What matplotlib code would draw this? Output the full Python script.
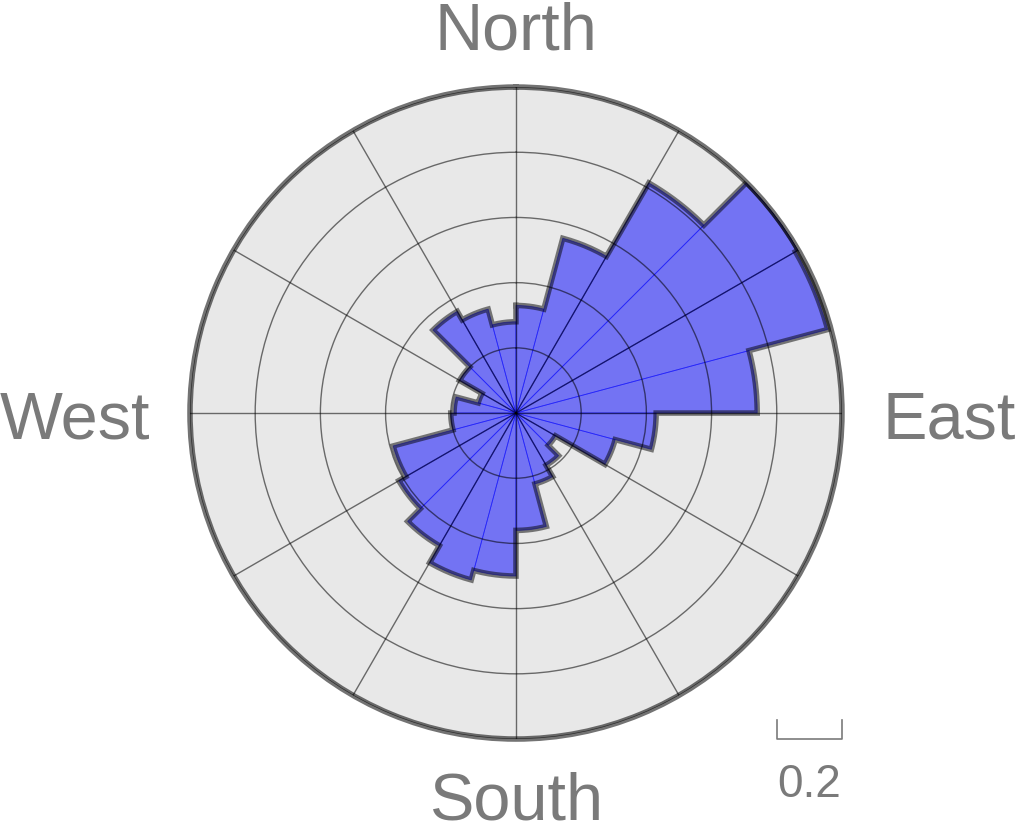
import numpy as np
import matplotlib.pyplot as plt

plt.rcParams['font.family'] = ['Liberation Sans', 'DejaVu Sans']

# 24 direction bins of 15 degrees, clockwise from north
bin_deg = 15
freq = [0.33, 0.555, 0.815, 1.0, 0.99, 0.74, 0.43, 0.315,
        0.14, 0.185, 0.225, 0.36, 0.50, 0.53, 0.47, 0.415,
        0.39, 0.20, 0.19, 0.12, 0.20, 0.36, 0.33, 0.28]
rings = [0.2, 0.4, 0.6, 0.8, 1.0]
compass = ['North', 'East', 'South', 'West']
scale_value = 0.2

n = len(freq)
edges = np.deg2rad(np.arange(n) * bin_deg)
width = np.deg2rad(bin_deg)

fig = plt.figure(figsize=(10.16, 8.33), dpi=100)
ax = fig.add_axes([0.187, 0.1128, 0.6417, 0.7827], projection='polar')
ax.set_theta_zero_location('N')
ax.set_theta_direction(-1)
ax.set_facecolor('#e8e8e8')

ax.bar(edges, freq, width=width, align='edge', color='blue', alpha=0.5,
       edgecolor='blue', linewidth=0.6)

# stepped outline of the histogram
th, rr = [], []
for i, r in enumerate(freq):
    t = np.linspace(edges[i], edges[i] + width, 20)
    th.extend(t)
    rr.extend([r] * len(t))
th.append(th[0])
rr.append(rr[0])
ax.plot(th, rr, color='black', alpha=0.5, lw=4, solid_joinstyle='miter')

ax.set_ylim(0, rings[-1])
ax.set_yticks(rings)
ax.set_yticklabels([])
ax.set_xticks(np.deg2rad(np.arange(0, 360, 30)))
ax.set_xticklabels([])
ax.grid(True, color='black', alpha=0.55, lw=1)
ax.spines['polar'].set_color('black')
ax.spines['polar'].set_alpha(0.55)
ax.spines['polar'].set_linewidth(4)

gray = '#7a7a7a'
fs = 48
fig.text(0.508, 1 - 50 / 833, compass[0], ha='center', va='baseline', fontsize=fs, color=gray)
fig.text(1.0, 1 - 438 / 833, compass[1], ha='right', va='baseline', fontsize=fs, color=gray)
fig.text(0.508, 0.0, compass[2], ha='center', va='bottom', fontsize=fs, color=gray)
fig.text(0.0, 1 - 438 / 833, compass[3], ha='left', va='baseline', fontsize=fs, color=gray)

# scale bar: length of scale_value in radial units
pos = ax.get_position()
rad = pos.width / 2
x1 = pos.x1
x0 = x1 - rad * scale_value / rings[-1]
yb = 1 - 739 / 833
yt = 1 - 720 / 833
fig.add_artist(plt.Line2D([x0, x0, x1, x1], [yt, yb, yb, yt], color=gray, lw=1.2))
fig.text((x0 + x1) / 2, 1 - 797 / 833, str(scale_value), ha='center', va='baseline',
         fontsize=33, color=gray)

fig.savefig('out.png', dpi=100)
